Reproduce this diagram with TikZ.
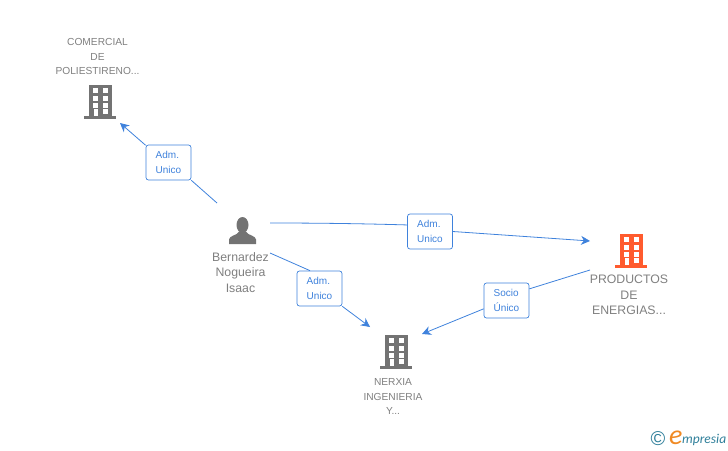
\documentclass[tikz,border=0pt]{standalone}
\usepackage{fontspec}
\usepackage{xcolor}
\setmainfont{Liberation Sans}
\newfontfamily\logofont{Carlito}
\usetikzlibrary{arrows.meta,positioning,calc}
\definecolor{linkblue}{HTML}{3F82DC}
\definecolor{icongray}{HTML}{737373}
\definecolor{iconorange}{HTML}{FF5B2E}
\definecolor{textgray}{HTML}{7F7F7F}
\definecolor{logoblue}{HTML}{2F7F9A}
\definecolor{logoorange}{HTML}{F08A24}
\tikzset{
  buildingicon/.pic={
    \fill[#1] (-16,-3) rectangle (16,0);
    \fill[#1] (-11.5,-3) rectangle (11.5,-34);
    \foreach \rowy in {-31,-23.5,-16.5}{
      \fill[white] (-7.5,\rowy) rectangle (-2,\rowy+5);
      \fill[white] (2.5,\rowy) rectangle (8,\rowy+5);
    }
    \fill[white] (-6.5,-10) rectangle (-2,-3);
    \fill[white] (2.5,-10) rectangle (8,-5);
  },
  personicon/.pic={
    \fill[icongray] (0,-7.5) ellipse (6 and 8);
    \fill[icongray] (-13.5,11.500) -- (-13.5,7) .. controls (-13.5,3) and (-5,3) .. (-3.5,-1)
      -- (3.5,-1) .. controls (5,3) and (13.5,3) .. (13.5,7) -- (13.5,11.500) -- cycle;
  },
  link node/.style={draw=linkblue,fill=white,rounded corners=2.5pt,line width=.7pt,minimum width=45pt,minimum height=35pt,
    inner sep=0pt,align=left,text=linkblue,font=\fontsize{10}{15}\selectfont},
  link line/.style={draw=linkblue,line width=.8pt},
  link arrow/.style={link line,-{Stealth[length=9pt,width=9pt]}},
  small label/.style={align=center,text=textgray,font=\fontsize{10.2}{14.7}\selectfont},
  big label/.style={align=center,text=textgray,font=\fontsize{12.3}{15.3}\selectfont}
}
\begin{document}
\begin{tikzpicture}[x=1pt,y=-1pt]
\useasboundingbox (0,0) rectangle (728,450);
\pic (comercial) at (100,119) {buildingicon=icongray};
\pic (productos) at (631,268) {buildingicon=iconorange};
\pic (nerxia) at (396,369) {buildingicon=icongray};
\pic (bernardez) at (242.500,232.500) {personicon};
\node[small label] (comerciallabel) at (97.500,56.500) {COMERCIAL\\DE\\POLIESTIRENO...};
\node[big label] (bernardezlabel) at (240.500,272.500) {Bernardez\\Nogueira\\Isaac};
\node[big label] (productoslabel) at (629,295) {PRODUCTOS\\DE\\ENERGIAS...};
\node[small label] (nerxialabel) at (393,396.500) {NERXIA\\INGENIERIA\\Y...};
\node[link node] (admone) at (168.500,162.500) {Adm.\\Unico};
\node[link node] (admtwo) at (430,231.500) {Adm.\\Unico};
\node[link node] (admthree) at (319.500,288.500) {Adm.\\Unico};
\node[link node] (socio) at (506.500,300.500) {Socio\\Único};
\coordinate (fromone) at (217,203);
\coordinate (toone) at (120,123);
\coordinate (fromtwo) at (270,223);
\coordinate (totwo) at (590,241);
\coordinate (fromthree) at (270,253);
\coordinate (tothree) at (370,327);
\coordinate (fromsocio) at (590,270);
\coordinate (tosocio) at (422,334);
\draw[link line] (fromone) -- (admone.-38);
\draw[link arrow] (admone.143) -- (toone);
\draw[link line] (fromtwo) .. controls (330,223) and (375,224) .. (admtwo.164);
\draw[link arrow] (admtwo.east) -- (totwo);
\draw[link line] (fromthree) -- (admthree.118);
\draw[link arrow] (admthree.-38) -- (tothree);
\draw[link line] (fromsocio) -- (socio.27);
\draw[link arrow] (socio.-160) -- (tosocio);
\node[text=logoblue,font=\fontsize{20}{20}\selectfont,inner sep=0pt] (logomark) at (658,438.500) {©};
\node[anchor=base west,inner sep=0pt,text=logoorange,font=\logofont\itshape\fontsize{28}{28}\selectfont] (logoe) at (669,444) {e};
\node[anchor=base west,inner sep=0pt,text=logoblue,font=\logofont\itshape\fontsize{13.5}{14}\selectfont] (logotext) at (682,443) {mpresia};
\end{tikzpicture}
\end{document}
